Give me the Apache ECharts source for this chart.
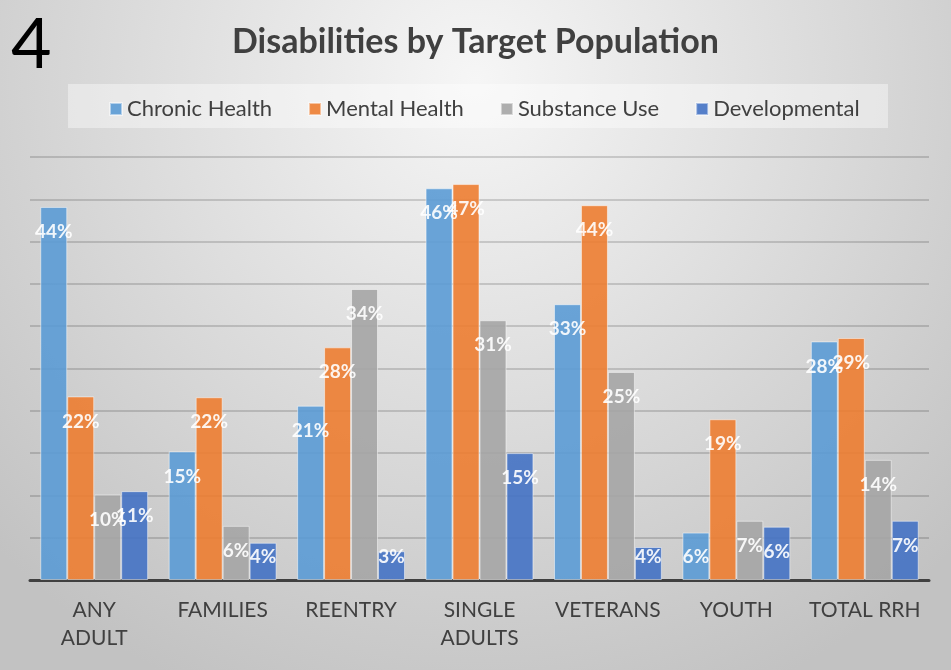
<!DOCTYPE html>
<html>
<head>
<meta charset="utf-8">
<script src="https://cdn.jsdelivr.net/npm/echarts@6/dist/echarts.min.js"></script>
<style>
  html, body { margin: 0; padding: 0; }
  #chart { width: 951px; height: 670px; }
</style>
</head>
<body>
<div id="chart"></div>
<script>
const categories = ['ANY\nADULT', 'FAMILIES', 'REENTRY', 'SINGLE\nADULTS', 'VETERANS', 'YOUTH', 'TOTAL RRH']
const seriesNames = ['Chronic Health', 'Mental Health', 'Substance Use', 'Developmental']
// percent values
const chronicHealth = [44.1, 15.2, 20.6, 46.3, 32.6, 5.6, 28.2]
const mentalHealth = [21.7, 21.6, 27.5, 46.8, 44.3, 19.0, 28.6]
const substanceUse = [10.1, 6.4, 34.4, 30.7, 24.6, 7.0, 14.2]
const developmental = [10.5, 4.4, 3.4, 15.0, 3.9, 6.3, 7.0]
const seriesColors = ['#5b9bd5', '#ed7d31', '#a5a5a5', '#4472c4']

const chartDom = document.querySelector('#chart')
const myChart = echarts.init(chartDom)

function makeBar(name, data, color) {
    return {
        name: name,
        type: 'bar',
        data: data,
        barGap: '0%',
        barCategoryGap: '16%',
        itemStyle: {
            color: color,
            opacity: 0.9,
            borderColor: 'rgba(255,255,255,0.55)',
            borderWidth: 1,
        },
        label: {
            show: true,
            position: 'insideTop',
            color: '#ffffff',
            fontWeight: 'bold',
            fontSize: 19,
            formatter: (p) => Math.round(p.value) + '%',
        },
        labelLayout: function (params) {
            const r = params.rect
            // short bars keep their label above the axis, like Excel does
            const cy = Math.min(r.y + 25, r.y + r.height - 23)
            return { x: r.x + r.width / 2, y: cy, align: 'center', verticalAlign: 'middle' }
        },
    }
}

const option = {
    backgroundColor: {
        type: 'radial',
        x: 0.5,
        y: 0.12,
        r: 1,
        colorStops: [
            { offset: 0, color: '#f6f6f6' },
            { offset: 1, color: '#c2c2c2' },
        ],
    },
    textStyle: { fontFamily: 'Lato' },
    title: {
        text: 'Disabilities by Target Population',
        left: 'center',
        top: 20,
        textStyle: {
            fontFamily: 'Lato',
            fontSize: 34,
            fontWeight: 'bold',
            color: '#404040',
        },
    },
    graphic: [
        {
            type: 'text',
            left: 11,
            top: 10,
            style: {
                text: '4',
                fontFamily: 'Lato',
                fontSize: 70,
                fill: '#000000',
            },
        },
        {
            type: 'rect',
            shape: { x: 68, y: 84, width: 820, height: 44 },
            style: { fill: 'rgba(255,255,255,0.4)' },
            z: -1,
        },
    ],
    legend: {
        data: seriesNames,
        left: 104,
        top: 93,
        itemWidth: 12,
        itemHeight: 12,
        itemGap: 36,
        icon: 'rect',
        textStyle: {
            fontFamily: 'Lato',
            fontSize: 22,
            color: '#404040',
        },
    },
    grid: {
        left: 30,
        right: 22,
        top: 157,
        bottom: 90,
    },
    xAxis: {
        type: 'category',
        data: categories,
        axisTick: { show: false },
        axisLine: { lineStyle: { color: '#404040', width: 3 } },
        axisLabel: {
            color: '#404040',
            fontSize: 21,
            lineHeight: 28,
            margin: 16,
            interval: 0,
        },
    },
    yAxis: {
        type: 'value',
        min: 0,
        max: 50,
        interval: 5,
        axisLabel: { show: false },
        axisLine: { show: false },
        axisTick: { show: false },
        splitLine: { lineStyle: { color: 'rgba(0,0,0,0.2)', width: 1.5 } },
    },
    series: [
        makeBar(seriesNames[0], chronicHealth, seriesColors[0]),
        makeBar(seriesNames[1], mentalHealth, seriesColors[1]),
        makeBar(seriesNames[2], substanceUse, seriesColors[2]),
        makeBar(seriesNames[3], developmental, seriesColors[3]),
    ],
}
myChart.setOption(option)
</script>
</body>
</html>
